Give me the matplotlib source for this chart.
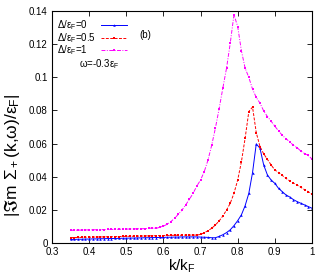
import numpy as np
import matplotlib
matplotlib.use('Agg')
import matplotlib.pyplot as plt

plt.rcParams['font.family'] = ['Liberation Sans', 'DejaVu Sans']
plt.rcParams['mathtext.fontset'] = 'custom'
plt.rcParams['mathtext.rm'] = 'Liberation Sans'
plt.rcParams['mathtext.it'] = 'Liberation Sans:italic'
plt.rcParams['mathtext.default'] = 'regular'

# k/kF grid, 0.35 .. 1.00
k = np.linspace(0.35, 1.0, 66)

# Delta/eF = 0
gap0 = [0.0022, 0.0022, 0.0023, 0.0023, 0.0024, 0.0024, 0.0025, 0.0025, 0.0026, 0.0026,
        0.0027, 0.0027, 0.0028, 0.0028, 0.0029, 0.0029, 0.0030, 0.0030, 0.0031, 0.0031,
        0.0032, 0.0032, 0.0033, 0.0033, 0.0034, 0.0034, 0.0035, 0.0035, 0.0036, 0.0036,
        0.0037, 0.0037, 0.0037, 0.0037, 0.0037, 0.0036, 0.0035, 0.0034, 0.0032, 0.0032,
        0.0040, 0.0050, 0.0063, 0.0080, 0.0105, 0.0135, 0.0170, 0.0225, 0.0300, 0.0425,
        0.0598, 0.0572, 0.0471, 0.0411, 0.0380, 0.0360, 0.0330, 0.0310, 0.0290, 0.0278,
        0.0262, 0.0250, 0.0240, 0.0230, 0.0220, 0.0210]

# Delta/eF = 0.5
gap05 = [0.0033, 0.0033, 0.0034, 0.0034, 0.0035, 0.0035, 0.0036, 0.0036, 0.0037, 0.0037,
         0.0038, 0.0038, 0.0039, 0.0039, 0.0040, 0.0040, 0.0041, 0.0041, 0.0042, 0.0042,
         0.0043, 0.0043, 0.0044, 0.0044, 0.0045, 0.0045, 0.0046, 0.0046, 0.0047, 0.0047,
         0.0047, 0.0048, 0.0048, 0.0048, 0.0048, 0.0052, 0.0062, 0.0074, 0.0089, 0.0109,
         0.0133, 0.0163, 0.0199, 0.0240, 0.0300, 0.0380, 0.0490, 0.0632, 0.0793, 0.0820,
         0.0666, 0.0582, 0.0538, 0.0505, 0.0471, 0.0441, 0.0425, 0.0408, 0.0390, 0.0375,
         0.0362, 0.0350, 0.0336, 0.0322, 0.0310, 0.0294]

# Delta/eF = 1
gap1 = [0.0077, 0.0077, 0.0078, 0.0078, 0.0079, 0.0079, 0.0080, 0.0080, 0.0081, 0.0081,
        0.0082, 0.0082, 0.0083, 0.0083, 0.0084, 0.0084, 0.0085, 0.0085, 0.0086, 0.0086,
        0.0087, 0.0088, 0.0091, 0.0088, 0.0095, 0.0102, 0.0113, 0.0129, 0.0149, 0.0173,
        0.0199, 0.0230, 0.0264, 0.0300, 0.0344, 0.0380, 0.0431, 0.0500, 0.0590, 0.0693,
        0.0810, 0.0934, 0.1055, 0.1206, 0.1377, 0.1306, 0.1160, 0.1055, 0.0999, 0.0928,
        0.0878, 0.0844, 0.0797, 0.0763, 0.0735, 0.0705, 0.0676, 0.0650, 0.0630, 0.0610,
        0.0590, 0.0575, 0.0555, 0.0540, 0.0528, 0.0507]

labels = [r'$\Delta/\varepsilon_F$=0', r'$\Delta/\varepsilon_F$=0.5', r'$\Delta/\varepsilon_F$=1']
colors = ['#0000ff', '#ff0000', '#ff00ff']
styles = ['-', (0, (3, 1.5)), (0, (4, 1.5, 1, 1.5))]
markers = ['^', 's', 's']

fig = plt.figure(figsize=(3.27, 2.8), dpi=100)
ax = fig.add_axes([0.159, 0.132, 0.795, 0.829])

for y, c, ls, m in zip([gap0, gap05, gap1], colors, styles, markers):
    ax.plot(k, y, color=c, linestyle=ls, linewidth=0.7, marker=m, markersize=1.8,
            markeredgewidth=0)

# gnuplot-like key: text left, sample line right
for i, (lab, c, ls, m) in enumerate(zip(labels, colors, styles, markers)):
    yy = 0.94 - i * 0.055
    ax.text(0.02, yy, lab, transform=ax.transAxes, fontsize=7, va='center', ha='left')
    ax.plot([0.19, 0.29], [yy, yy], transform=ax.transAxes, color=c, linestyle=ls,
            linewidth=0.7)
    ax.plot([0.24], [yy], transform=ax.transAxes, color=c, marker=m, markersize=1.8,
            markeredgewidth=0)

ax.text(0.358, 0.897, '(b)', transform=ax.transAxes, fontsize=7, va='center', ha='center')
ax.text(0.105, 0.77, r'$\omega$=-0.3$\varepsilon_F$', transform=ax.transAxes,
        fontsize=7, va='center', ha='left')

ax.set_xlim(0.3, 1.0)
ax.set_ylim(0, 0.14)
ax.set_xticks(np.arange(0.3, 1.01, 0.1))
ax.set_yticks(np.arange(0, 0.141, 0.02))
ax.xaxis.set_major_formatter(plt.FormatStrFormatter('%g'))
ax.yaxis.set_major_formatter(plt.FormatStrFormatter('%g'))
ax.tick_params(direction='in', top=True, right=True, length=3.5, width=0.6,
               labelsize=7, pad=3)
for s in ax.spines.values():
    s.set_linewidth(0.8)

ax.set_xlabel(r'k/k$_F$', fontsize=11, labelpad=0)
ax.set_ylabel(r'$|\Im$m $\Sigma_+$(k,$\omega$)/$\varepsilon_F|$', fontsize=12.5)
ax.yaxis.set_label_coords(-0.115, 0.38)

fig.savefig('out.png', dpi=100)
